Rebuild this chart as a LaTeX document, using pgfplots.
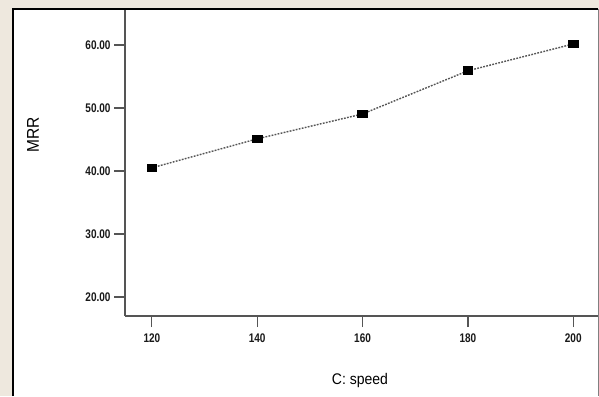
\documentclass[border=0pt]{standalone}
\usepackage{pgfplots}
\pgfplotsset{compat=1.18}
\usepackage{fontspec}
\setmainfont{Liberation Sans}
\definecolor{beige}{RGB}{238,232,222}
\definecolor{axisgray}{RGB}{85,85,85}
\definecolor{linegray}{RGB}{85,85,85}
\begin{document}
\begin{tikzpicture}[x=1pt,y=1pt]
\useasboundingbox (0,0) rectangle (599,396);
\fill[beige] (0,0) rectangle (599,396);
\fill[white] (13,0) rectangle (598,387);
\begin{axis}[
  at={(125pt,80pt)}, anchor=south west,
  scale only axis, width=473pt, height=307pt,
  xmin=114.9, xmax=204.7, ymin=17, ymax=65.7,
  axis x line*=bottom, axis y line*=left,
  axis line style={draw=axisgray, line width=1.2pt},
  tick align=outside, major tick length=11pt,
  tick style={draw=axisgray, line width=1.2pt},
  xtick={120,140,160,180,200}, ytick={20,30,40,50,60},
  /pgf/number format/assume math mode=true,
  ticklabel style={font=\bfseries\fontsize{10}{10}\selectfont, text=black!90},
  yticklabel={\scalebox{1}[1.25]{\pgfmathprintnumber[fixed,fixed zerofill,precision=2]{\tick}}},
  xticklabel={\scalebox{1}[1.25]{\pgfmathprintnumber[fixed,precision=0]{\tick}}},
  x tick label style={yshift=-3pt},
  clip=false,
]
\addplot[linegray, line width=1.4pt, dash pattern=on 1.8pt off 1.3pt,
  mark=square*, mark size=4.8pt,
  mark options={solid, fill=black, draw=black, line width=0pt, yscale=0.8}]
  coordinates {(120,40.5) (140,45.1) (160,49.05) (180,55.9) (200,60.15)};
\end{axis}
\draw[black, line width=1.4pt] (13,0) -- (13,387) -- (598,387);
\draw[gray, line width=0.8pt] (598,387) -- (598,0);
\node[rotate=90, font=\fontsize{15.5}{15.5}\selectfont] at (33,261) {\scalebox{1}[1.1]{MRR}};
\node[font=\fontsize{14}{14}\selectfont] at (360,15) {\scalebox{1}[1.1]{C: speed}};
\end{tikzpicture}
\end{document}
